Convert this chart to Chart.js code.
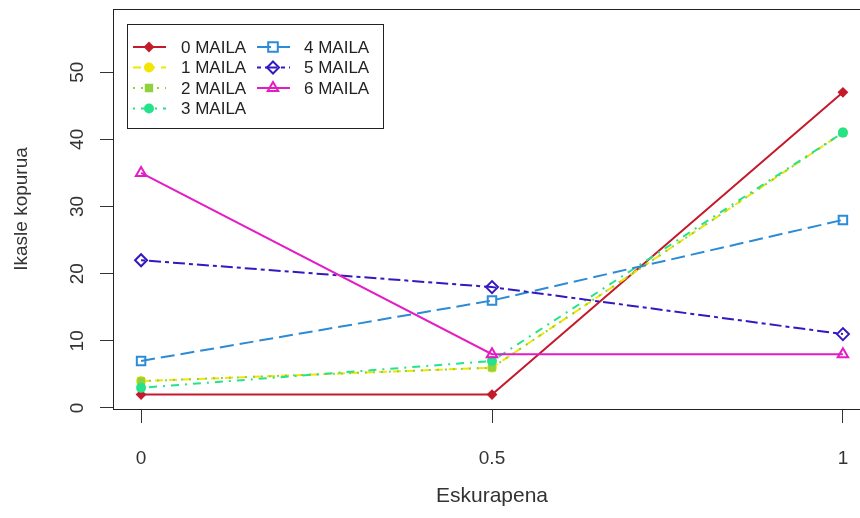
<!DOCTYPE html>
<html>
<head>
<meta charset="utf-8">
<script src="https://cdn.jsdelivr.net/npm/chart.js@4/dist/chart.umd.min.js"></script>
<style>
  html, body { margin: 0; padding: 0; overflow: hidden; background: #fff; }
  #wrap { width: 860px; height: 518px; overflow: hidden; }
  canvas { display: block; }
</style>
</head>
<body>
<div id="wrap"><canvas id="mailaChart" width="880" height="518"></canvas></div>
<script>
// datuak
var eskurapena = [0, 0.5, 1];
var maila0 = [2, 2, 47];
var maila1 = [4, 6, 41];
var maila2 = [4, 6, 41];
var maila3 = [3, 7, 41];
var maila4 = [7, 16, 28];
var maila5 = [22, 18, 11];
var maila6 = [35, 8, 8];
var mailaLabels = ["0 MAILA", "1 MAILA", "2 MAILA", "3 MAILA", "4 MAILA", "5 MAILA", "6 MAILA"];
var xTicks = [0, 0.5, 1];
var yTicks = [0, 10, 20, 30, 40, 50];

var series = [maila0, maila1, maila2, maila3, maila4, maila5, maila6];
var colors = ["#C41A2B", "#F2E600", "#8FD13F", "#25E38B", "#2C8BD6", "#3418C0", "#E41CC4"];
var dashes = [[], [8, 6], [2, 6], [2, 6, 8, 6], [14, 6], [4, 4, 12, 4], []];
var markers = ["rectRot", "circle", "rect", "circle", "rect", "rectRot", "triangle"];
var filled = [true, true, true, true, false, false, false];

Chart.defaults.font.family = "'Liberation Sans', Arial, sans-serif";
Chart.defaults.color = "#333";

function toPoints(values) {
  return eskurapena.map(function (x, i) {
    return { x: x, y: values[i] };
  });
}

var datasets = series.map(function (values, i) {
  return {
    label: mailaLabels[i],
    data: toPoints(values),
    borderColor: colors[i],
    borderWidth: 2,
    borderDash: dashes[i],
    pointStyle: markers[i],
    pointRadius: filled[i] ? 4 : 6,
    pointBorderWidth: 2,
    pointBorderColor: colors[i],
    pointBackgroundColor: filled[i] ? colors[i] : "rgba(0,0,0,0)",
    fill: false,
    tension: 0,
    order: 6 - i,
  };
});

// marker txikia legendarako
function drawMarker(ctx, style, x, y, r, color, fillIt) {
  ctx.save();
  ctx.setLineDash([]);
  ctx.beginPath();
  if (style === "circle") {
    ctx.arc(x, y, r, 0, Math.PI * 2);
  } else if (style === "rect") {
    ctx.rect(x - r * 0.8, y - r * 0.8, r * 1.6, r * 1.6);
  } else if (style === "rectRot") {
    ctx.moveTo(x, y - r);
    ctx.lineTo(x + r, y);
    ctx.lineTo(x, y + r);
    ctx.lineTo(x - r, y);
    ctx.closePath();
  } else if (style === "triangle") {
    ctx.moveTo(x, y - r);
    ctx.lineTo(x + r * 0.87, y + r * 0.5);
    ctx.lineTo(x - r * 0.87, y + r * 0.5);
    ctx.closePath();
  }
  ctx.lineWidth = 2;
  ctx.strokeStyle = color;
  ctx.stroke();
  if (fillIt) {
    ctx.fillStyle = color;
    ctx.fill();
  }
  ctx.restore();
}

// R estiloko legenda (bi zutabe)
var mailaLegend = {
  id: "mailaLegend",
  afterDatasetsDraw: function (chart) {
    var ctx = chart.ctx;
    ctx.save();
    ctx.fillStyle = "#fff";
    ctx.fillRect(127, 24, 256, 104);
    ctx.strokeStyle = "#222";
    ctx.lineWidth = 1;
    ctx.strokeRect(127.5, 24.5, 256, 104);
    var lineX = [133, 257];
    var textX = [181, 304];
    chart.data.datasets.forEach(function (ds, i) {
      var col = i < 4 ? 0 : 1;
      var row = i < 4 ? i : i - 4;
      var y = 47 + row * 20.5;
      ctx.beginPath();
      ctx.setLineDash(ds.borderDash);
      ctx.strokeStyle = ds.borderColor;
      ctx.lineWidth = 2;
      ctx.moveTo(lineX[col], y);
      ctx.lineTo(lineX[col] + 33, y);
      ctx.stroke();
      ctx.setLineDash([]);
      drawMarker(ctx, ds.pointStyle, lineX[col] + 16, y, ds.pointRadius, ds.borderColor, filled[i]);
      ctx.fillStyle = "#222";
      ctx.font = "17px 'Liberation Sans', Arial, sans-serif";
      ctx.textBaseline = "middle";
      ctx.textAlign = "left";
      ctx.fillText(ds.label, textX[col], y + 1);
    });
    ctx.restore();
  },
};

// koadroa eta y ardatzeko etiketa biratuak
var boxAndYLabels = {
  id: "boxAndYLabels",
  afterDraw: function (chart) {
    var ctx = chart.ctx;
    var a = chart.chartArea;
    var yScale = chart.scales.y;
    ctx.save();
    ctx.strokeStyle = "#222";
    ctx.lineWidth = 1;
    ctx.strokeRect(Math.round(a.left) + 0.5, Math.round(a.top) + 0.5, Math.round(a.right - a.left), Math.round(a.bottom - a.top));
    ctx.fillStyle = "#333";
    ctx.font = "19px 'Liberation Sans', Arial, sans-serif";
    ctx.textAlign = "center";
    ctx.textBaseline = "middle";
    yTicks.forEach(function (v) {
      var py = yScale.getPixelForValue(v);
      ctx.save();
      ctx.translate(78, py);
      ctx.rotate(-Math.PI / 2);
      ctx.fillText(String(v), 0, 0);
      ctx.restore();
    });
    ctx.restore();
  },
};

var mailaChartConfig = {
  type: "line",
  data: { datasets: datasets },
  options: {
    responsive: false,
    animation: false,
    layout: { padding: { top: 9, right: 9, bottom: 0, left: 0 } },
    plugins: {
      legend: { display: false },
      tooltip: { enabled: false },
    },
    scales: {
      x: {
        type: "linear",
        min: -0.04,
        max: 1.04,
        afterBuildTicks: function (scale) {
          scale.ticks = xTicks.map(function (v) { return { value: v }; });
        },
        afterFit: function (scale) {
          scale.height = 109;
        },
        grid: {
          drawOnChartArea: false,
          drawTicks: true,
          tickLength: 14,
          color: "#333",
        },
        border: { display: false },
        ticks: {
          padding: 24,
          maxRotation: 0,
          font: { size: 19 },
          color: "#333",
          callback: function (v) { return String(v); },
        },
        title: {
          display: true,
          text: "Eskurapena",
          font: { size: 21 },
          color: "#333",
          padding: { top: 0, bottom: 9 },
        },
      },
      y: {
        type: "linear",
        min: -0.15,
        max: 59.4,
        afterBuildTicks: function (scale) {
          scale.ticks = yTicks.map(function (v) { return { value: v }; });
        },
        afterFit: function (scale) {
          scale.width = 113;
        },
        grid: {
          drawOnChartArea: false,
          drawTicks: true,
          tickLength: 13,
          color: "#333",
        },
        border: { display: false },
        ticks: { display: false },
        title: {
          display: true,
          text: "Ikasle kopurua",
          font: { size: 19 },
          color: "#333",
          padding: { top: 10, bottom: 0 },
        },
      },
    },
  },
  plugins: [mailaLegend, boxAndYLabels],
};

var mailaChart = new Chart(document.getElementById("mailaChart"), mailaChartConfig);
</script>
</body>
</html>
